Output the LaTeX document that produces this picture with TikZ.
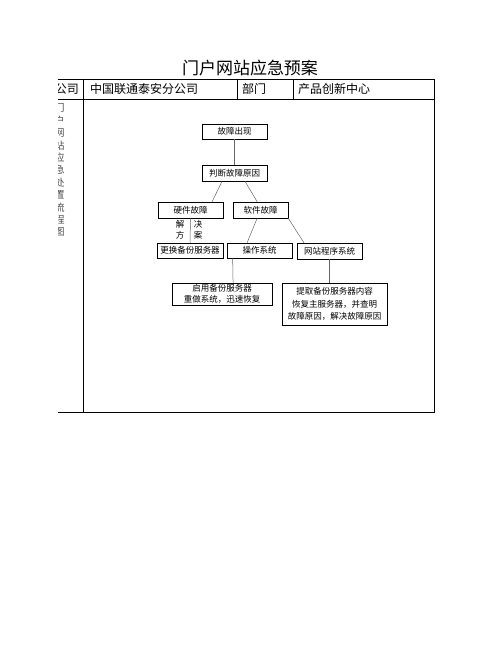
\documentclass[tikz,border=0pt]{standalone}
\usepackage{fontspec}
\setmainfont{Noto Sans CJK SC}
\usetikzlibrary{positioning,calc}

\begin{document}
\begin{tikzpicture}[x=1pt, y=-1pt,
    box/.style={rectangle, draw=black, line width=0.5pt, inner sep=0pt, align=center, font=\fontsize{8.5}{12.5}\selectfont},
    link/.style={draw=black!60, line width=0.5pt},
    grid/.style={line width=0.9pt},
    cell/.style={inner sep=0pt, font=\fontsize{12}{14}\selectfont},
    note/.style={inner sep=0pt, font=\fontsize{8.5}{10}\selectfont}
]
    \useasboundingbox (0,0) rectangle (502,649);

    % Title
    \node[inner sep=0pt, font=\fontsize{17}{20}\selectfont] (title) at (250,68) {门户网站应急预案};

    % Table frame
    \draw[grid] (58,79) -- (434,79) -- (434,412) -- (58,412);
    \draw[grid] (58,99) -- (434,99);
    \draw[grid] (83,79) -- (83,412);
    \draw[grid] (237,79) -- (237,99);
    \draw[grid] (293,79) -- (293,99);

    % Header row
    \node[cell, anchor=west] (org) at (90,89) {中国联通泰安分公司};
    \node[cell, anchor=west] (dept) at (242,89) {部门};
    \node[cell, anchor=west] (unit) at (298,89) {产品创新中心};

    % Left column (cut off at the edge)
    \begin{scope}
        \clip (58,79) rectangle (83,412);
        \node[cell, anchor=east] (corp) at (79,89) {公司};
        \foreach \ch [count=\i from 0] in {门,户,网,站,应,急,处,置,流,程,图}
            \node[inner sep=0pt, text=black!70, font=\fontsize{10}{12}\selectfont] (v\i) at (59.5,108+12.4*\i) {\ch};
    \end{scope}

    % Flow chart boxes
    \node[box, minimum width=65pt, minimum height=15pt] (fault) at (234.5,131.5) {故障出现};
    \node[box, minimum width=65pt, minimum height=16pt] (cause) at (234.5,173) {判断故障原因};
    \node[box, minimum width=65pt, minimum height=16pt] (hw) at (190.5,210) {硬件故障};
    \node[box, minimum width=55pt, minimum height=16pt] (sw) at (260.5,210) {软件故障};
    \node[box, minimum width=66pt, minimum height=15pt] (replace) at (190,250.5) {更换备份服务器};
    \node[box, minimum width=65pt, minimum height=15pt] (os) at (259.5,250.5) {操作系统};
    \node[box, minimum width=65pt, minimum height=16pt] (web) at (329.5,251) {网站程序系统};
    \node[box, minimum width=100pt, minimum height=22pt, font=\fontsize{8.5}{11}\selectfont] (standby) at (222,294) {启用备份服务器\\重做系统，迅速恢复};
    \node[box, minimum width=105pt, minimum height=42pt] (restore) at (334.5,304) {提取备份服务器内容\\恢复主服务器，并查明\\故障原因，解决故障原因};

    % Solution label
    \node[note] (sola) at (180,224) {解};
    \node[note] (solb) at (198,224) {决};
    \node[note] (solc) at (180,235) {方};
    \node[note] (sold) at (198,235) {案};

    % Connectors
    \draw[link] (fault.south) -- (cause.north);
    \draw[link] ($(cause.south west)!.31!(cause.south east)$) -- ($(hw.north west)!.83!(hw.north east)$);
    \draw[link] ($(cause.south west)!.66!(cause.south east)$) -- ($(sw.north west)!.44!(sw.north east)$);
    \draw[link] (hw.south) -- (replace.north);
    \draw[link] ($(sw.south west)!.44!(sw.south east)$) -- ($(os.north west)!.31!(os.north east)$);
    \draw[link] (sw.south east) -- ($(web.north west)!.11!(web.north east)$);
    \draw[link] ($(os.south west)!.09!(os.south east)$) -- ($(standby.north west)!.61!(standby.north east)$);
    \draw[link] (web.south) -- (web.south |- restore.north);
\end{tikzpicture}
\end{document}
